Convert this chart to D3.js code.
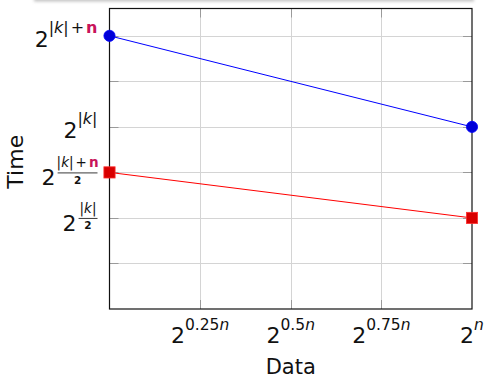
<!DOCTYPE html>
<html><head><meta charset="utf-8">
<script src="https://cdn.jsdelivr.net/npm/d3@7"></script>
<style>body{margin:0;background:#fff}svg{display:block}text{font-family:"DejaVu Sans",sans-serif}</style>
</head><body><svg id="c" width="485" height="379"></svg>
<script>
// ---- data ----
const xValues = [0, 1];
const blueSeries = [6, 4];
const redSeries = [3, 2];
const xTickValues = [0, 0.25, 0.5, 0.75, 1];
const xTickExponents = ["", "0.25", "0.5", "0.75", ""];
const yTickValues = [1, 2, 3, 4, 5, 6];
const yTickLabels = ["", "2^{|k|/2}", "2^{(|k|+n)/2}", "2^{|k|}", "", "2^{|k|+n}"];
const xLabel = "Data", yLabel = "Time";

const svg = d3.select("#c");
const L = 109.5, R = 472, T = 8.5, B = 309;
const x = d3.scaleLinear().domain([0, 1]).range([L, R]);
const y = d3.scaleLinear().domain([0, 6.6]).range([B, T]);
const nColor = "#c8145a";

// top shadow
const defs = svg.append("defs");
defs.append("filter").attr("id","bl").attr("x","-10%").attr("y","-200%").attr("width","120%").attr("height","500%")
  .append("feGaussianBlur").attr("stdDeviation", 1.6);
svg.append("rect").attr("x", 34).attr("y", -6).attr("width", 440).attr("height", 7.5)
  .attr("fill", "#c4c4c4").attr("filter", "url(#bl)");

// grid
const g = svg.append("g");
g.selectAll(".vg").data(xTickValues.slice(1, 4)).join("line")
  .attr("x1", d => Math.round(x(d)) + 0.5).attr("x2", d => Math.round(x(d)) + 0.5)
  .attr("y1", T).attr("y2", B).attr("stroke", "#d4d4d4").attr("stroke-width", 1);
g.selectAll(".hg").data(yTickValues).join("line")
  .attr("y1", d => Math.round(y(d)) + 0.5).attr("y2", d => Math.round(y(d)) + 0.5)
  .attr("x1", L).attr("x2", R).attr("stroke", "#d4d4d4").attr("stroke-width", 1);

// inward ticks on all four sides
const tl = 9, tc = "#9a9a9a";
g.selectAll(".xtb").data(xTickValues.slice(1, 4)).join("line")
  .attr("x1", d => Math.round(x(d)) + 0.5).attr("x2", d => Math.round(x(d)) + 0.5)
  .attr("y1", B).attr("y2", B - tl).attr("stroke", tc);
g.selectAll(".xtt").data(xTickValues.slice(1, 4)).join("line")
  .attr("x1", d => Math.round(x(d)) + 0.5).attr("x2", d => Math.round(x(d)) + 0.5)
  .attr("y1", T).attr("y2", T + tl).attr("stroke", tc);
g.selectAll(".ytl").data(yTickValues).join("line")
  .attr("y1", d => Math.round(y(d)) + 0.5).attr("y2", d => Math.round(y(d)) + 0.5)
  .attr("x1", L).attr("x2", L + tl).attr("stroke", tc);
g.selectAll(".ytr").data(yTickValues).join("line")
  .attr("y1", d => Math.round(y(d)) + 0.5).attr("y2", d => Math.round(y(d)) + 0.5)
  .attr("x1", R).attr("x2", R - tl).attr("stroke", tc);

// frame
svg.append("rect").attr("x", L).attr("y", T).attr("width", R - L).attr("height", B - T)
  .attr("fill", "none").attr("stroke", "#111").attr("stroke-width", 1.2);

// x tick labels
const xt = svg.append("g");
xTickValues.forEach((v, i) => {
  if (v === 0) return;
  const t = xt.append("text").attr("x", x(v)).attr("y", 343).attr("text-anchor", "middle")
    .attr("font-size", 22).attr("fill", "#111");
  t.append("tspan").text("2");
  const e = t.append("tspan").attr("dy", -13).attr("font-size", 15.5);
  if (xTickExponents[i]) e.append("tspan").text(xTickExponents[i]);
  e.append("tspan").attr("font-style", "italic").text("n");
});

// exponent renderer
function expo(parent, str, size) {
  const parts = str.split("+");
  parts.forEach((p, j) => {
    if (j > 0) parent.append("tspan").attr("dx", 2).attr("font-size", size).text("+");
    const dx = j > 0 ? 2 : 0;
    if (p === "n") {
      parent.append("tspan").attr("dx", dx).attr("font-size", size).attr("font-weight", "bold")
        .attr("fill", nColor).text("n");
    } else {
      parent.append("tspan").attr("dx", dx).attr("font-size", size).text("|");
      parent.append("tspan").attr("font-size", size).attr("font-style", "italic").text("k");
      parent.append("tspan").attr("font-size", size).text("|");
    }
  });
}

// y tick labels
const yt = svg.append("g");
const RE = L - 12;
yTickValues.forEach((v, i) => {
  const lab = yTickLabels[i];
  if (!lab) return;
  const ty = y(v);
  const m = lab.match(/^2\^\{(.*)\}$/);
  let ex = m[1];
  const fr = ex.match(/^\(?(.*?)\)?\/2$/);
  if (!fr) {
    const t = yt.append("text").attr("x", RE).attr("y", ty + 11).attr("text-anchor", "end")
      .attr("font-size", 22).attr("fill", "#111");
    t.append("tspan").text("2");
    const s = t.append("tspan").attr("dy", -14);
    expo(s, ex, 16);
  } else {
    const num = yt.append("text").attr("y", ty - 5).attr("text-anchor", "middle").attr("fill", "#111");
    expo(num, fr[1], 13.5);
    const w = num.node().getComputedTextLength();
    const cx = RE - 1 - w / 2;
    num.attr("x", cx);
    yt.append("line").attr("x1", RE - w - 2).attr("x2", RE).attr("y1", ty + 0.5).attr("y2", ty + 0.5)
      .attr("stroke", "#222").attr("stroke-width", 0.9);
    yt.append("text").attr("x", cx).attr("y", ty + 11.5).attr("text-anchor", "middle")
      .attr("font-size", 10.5).attr("font-weight", "bold").attr("fill", "#111").text("2");
    yt.append("text").attr("x", RE - w - 4).attr("y", ty + 13).attr("text-anchor", "end")
      .attr("font-size", 22).attr("fill", "#111").text("2");
  }
});

// axis labels
svg.append("text").attr("x", (L + R) / 2).attr("y", 374).attr("text-anchor", "middle")
  .attr("font-size", 21).attr("fill", "#111").text(xLabel);
svg.append("text").attr("transform", `translate(23,${(T + B) / 2 + 3}) rotate(-90)`)
  .attr("text-anchor", "middle").attr("font-size", 22).attr("fill", "#111").text(yLabel);

// series
const line = d3.line().x((d, i) => x(xValues[i])).y(d => y(d));
svg.append("path").datum(blueSeries).attr("d", line).attr("fill", "none").attr("stroke", "#0000ff").attr("stroke-width", 1);
svg.append("path").datum(redSeries).attr("d", line).attr("fill", "none").attr("stroke", "#ff0000").attr("stroke-width", 1);
svg.selectAll(".bm").data(blueSeries).join("circle")
  .attr("cx", (d, i) => x(xValues[i])).attr("cy", d => y(d)).attr("r", 5.6)
  .attr("fill", "#0000d8").attr("stroke", "#0000ff").attr("stroke-width", 0.8);
svg.selectAll(".rm").data(redSeries).join("rect")
  .attr("x", (d, i) => x(xValues[i]) - 5.6).attr("y", d => y(d) - 5.6).attr("width", 11.2).attr("height", 11.2)
  .attr("fill", "#d80000").attr("stroke", "#ff3030").attr("stroke-width", 0.8);
</script></body></html>
